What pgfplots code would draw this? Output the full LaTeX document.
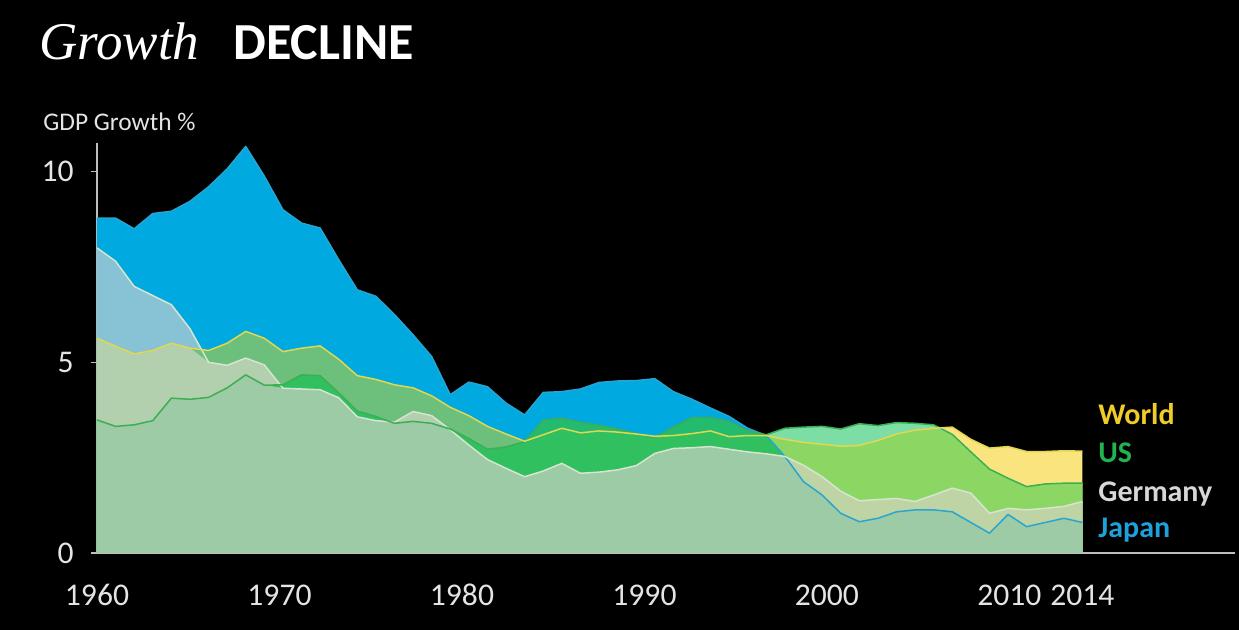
\documentclass[border=0pt]{standalone}
\usepackage{pgfplots}
\pgfplotsset{compat=1.18}
\usepackage{pgfplotstable}
\usepackage{fontspec}
\setmainfont{Carlito}
\newfontfamily\serifit{Liberation Serif}

% region colours: which series lie above the point (J=Japan, G=Germany, W=World, U=US)
\definecolor{cJ}{RGB}{0,169,224}
\definecolor{cG}{RGB}{190,192,188}
\definecolor{cW}{RGB}{250,228,125}
\definecolor{cU}{RGB}{125,222,165}
\definecolor{cJG}{RGB}{136,195,213}
\definecolor{cJW}{RGB}{109,191,124}
\definecolor{cJU}{RGB}{35,188,110}
\definecolor{cGW}{RGB}{205,215,150}
\definecolor{cGU}{RGB}{160,215,155}
\definecolor{cWU}{RGB}{140,215,100}
\definecolor{cJGW}{RGB}{178,207,174}
\definecolor{cJGU}{RGB}{152,203,168}
\definecolor{cJWU}{RGB}{48,192,95}
\definecolor{cGWU}{RGB}{190,212,165}
\definecolor{cJGWU}{RGB}{156,203,165}
% lines and text
\definecolor{lJ}{RGB}{40,165,208}
\definecolor{lG}{RGB}{215,228,208}
\definecolor{lW}{RGB}{225,215,80}
\definecolor{lU}{RGB}{60,175,85}
\definecolor{axisgray}{RGB}{190,190,190}
\definecolor{labelgray}{RGB}{228,228,228}
\definecolor{tWorld}{RGB}{240,204,40}
\definecolor{tUS}{RGB}{35,178,80}
\definecolor{tGer}{RGB}{215,215,215}
\definecolor{tJap}{RGB}{30,160,218}

\pgfplotstableread{
year J G W U
1961 8.78 8.00 5.63 3.49
1962 8.78 7.65 5.42 3.32
1963 8.50 6.99 5.22 3.36
1964 8.90 6.75 5.31 3.47
1965 8.96 6.51 5.50 4.06
1966 9.22 5.88 5.37 4.03
1967 9.60 5.00 5.31 4.08
1968 10.07 4.92 5.50 4.33
1969 10.66 5.11 5.81 4.67
1970 9.88 4.93 5.63 4.40
1971 9.00 4.32 5.28 4.41
1972 8.65 4.30 5.37 4.67
1973 8.52 4.28 5.43 4.65
1974 7.69 4.07 5.08 4.20
1975 6.90 3.57 4.65 3.72
1976 6.73 3.47 4.55 3.58
1977 6.25 3.43 4.41 3.40
1978 5.72 3.71 4.33 3.45
1979 5.15 3.60 4.12 3.40
1980 4.15 3.23 3.82 3.25
1981 4.48 2.83 3.60 3.00
1982 4.36 2.45 3.32 2.72
1983 3.93 2.22 3.12 2.78
1984 3.62 2.00 2.93 2.92
1985 4.21 2.15 3.10 3.48
1986 4.23 2.35 3.27 3.53
1987 4.30 2.09 3.15 3.42
1988 4.47 2.12 3.20 3.35
1989 4.51 2.18 3.17 3.25
1990 4.52 2.29 3.12 3.13
1991 4.57 2.61 3.06 3.02
1992 4.23 2.74 3.08 3.30
1993 4.03 2.76 3.13 3.55
1994 3.80 2.79 3.20 3.55
1995 3.58 2.72 3.05 3.45
1996 3.27 2.65 3.08 3.20
1997 3.08 2.60 3.08 3.10
1998 2.53 2.53 2.98 3.27
1999 1.87 2.30 2.90 3.30
2000 1.52 2.00 2.85 3.32
2001 1.04 1.62 2.80 3.25
2002 0.82 1.37 2.82 3.39
2003 0.91 1.40 2.95 3.34
2004 1.08 1.43 3.12 3.42
2005 1.13 1.35 3.22 3.40
2006 1.13 1.52 3.27 3.36
2007 1.08 1.70 3.30 3.11
2008 0.80 1.57 2.98 2.65
2009 0.52 1.04 2.75 2.20
2010 1.01 1.17 2.79 1.96
2011 0.69 1.13 2.66 1.74
2012 0.80 1.17 2.66 1.81
2013 0.91 1.22 2.68 1.83
2014 0.80 1.35 2.67 1.83
}\gdpdata

% x position: the 54 yearly values are spread from the 1960 to the 2014 mark
\newcommand{\xpos}{1960+(\thisrow{year}-1961)*54/53}
\newcommand{\region}[2]{%
  \addplot[fill=#1, draw=none] table[x expr={\xpos}, y expr={#2}] {\gdpdata} \closedcycle;}
\newcommand{\seriesline}[2]{%
  \addplot[draw=#1, line width=0.75pt, line join=round] table[x expr={\xpos}, y=#2] {\gdpdata};}

\begin{document}
\begin{tikzpicture}
\path[use as bounding box] (0,0) rectangle (619.5pt,315pt);
\fill[black] (0,0) rectangle (619.5pt,315pt);
\begin{axis}[
  at={(48.5pt,38.5pt)}, anchor=south west,
  scale only axis, width=569pt, height=205pt,
  xmin=1960, xmax=2022.36, ymin=0, ymax=10.75,
  axis lines=left,
  axis line style={-, draw=axisgray, line width=0.8pt},
  xtick={1960,1970,1980,1990,2000,2010,2014},
  xticklabels={1960,1970,1980,1990,2000,2010,2014},
  ytick={0,5,10}, yticklabels={0,5,10},
  tick align=outside,
  major tick length=3pt,
  xtick style={draw=none},
  ytick style={draw=axisgray, line width=0.6pt},
  tick label style={font=\fontsize{15.8}{18}\selectfont, text=labelgray},
  xticklabel style={anchor=base, yshift=-23.5pt},
  yticklabel style={anchor=east, inner sep=0pt, xshift=-8.5pt},
]
% singles
\region{cJ}{\thisrow{J}}
\region{cG}{\thisrow{G}}
\region{cW}{\thisrow{W}}
\region{cU}{\thisrow{U}}
% pairs
\region{cJG}{min(\thisrow{J},\thisrow{G})}
\region{cJW}{min(\thisrow{J},\thisrow{W})}
\region{cJU}{min(\thisrow{J},\thisrow{U})}
\region{cGW}{min(\thisrow{G},\thisrow{W})}
\region{cGU}{min(\thisrow{G},\thisrow{U})}
\region{cWU}{min(\thisrow{W},\thisrow{U})}
% triples
\region{cJGW}{min(\thisrow{J},\thisrow{G},\thisrow{W})}
\region{cJGU}{min(\thisrow{J},\thisrow{G},\thisrow{U})}
\region{cJWU}{min(\thisrow{J},\thisrow{W},\thisrow{U})}
\region{cGWU}{min(\thisrow{G},\thisrow{W},\thisrow{U})}
% all four
\region{cJGWU}{min(\thisrow{J},\thisrow{G},\thisrow{W},\thisrow{U})}
% outlines
\seriesline{lJ}{J}
\seriesline{lG}{G}
\seriesline{lU}{U}
\seriesline{lW}{W}
\end{axis}
% title and labels
\node[anchor=base west, inner sep=0pt, text=white] at (19.5pt,285pt)
  {\serifit\itshape\fontsize{26.5}{30}\selectfont Growth};
\node[anchor=base west, inner sep=0pt, text=white] at (116.5pt,285pt)
  {\bfseries\fontsize{26}{30}\selectfont DECLINE};
\node[anchor=base west, inner sep=0pt, text=labelgray] at (21.5pt,249.5pt)
  {\fontsize{12.7}{15}\selectfont GDP Growth \%};
% series names
\node[anchor=base west, inner sep=0pt, text=tWorld] at (549pt,102.5pt)
  {\bfseries\fontsize{15}{18}\selectfont World};
\node[anchor=base west, inner sep=0pt, text=tUS] at (549pt,83.5pt)
  {\bfseries\fontsize{15}{18}\selectfont US};
\node[anchor=base west, inner sep=0pt, text=tGer] at (549pt,64pt)
  {\bfseries\fontsize{15}{18}\selectfont Germany};
\node[anchor=base west, inner sep=0pt, text=tJap] at (549pt,46pt)
  {\bfseries\fontsize{15}{18}\selectfont Japan};
\end{tikzpicture}
\end{document}
